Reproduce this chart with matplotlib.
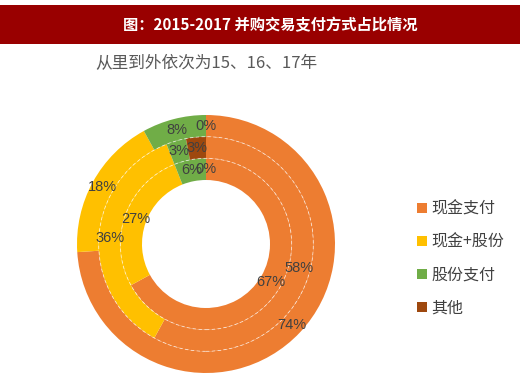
import numpy as np
import matplotlib
matplotlib.use('Agg')
import matplotlib.pyplot as plt
from matplotlib.patches import Rectangle, Circle

plt.rcParams['font.family'] = ['Noto Sans CJK SC', 'DejaVu Sans']

# 数据（从里到外三个环）
categories = ['现金支付', '现金+股份', '股份支付', '其他']
inner_ring = [67, 27, 6, 0]
middle_ring = [58, 36, 3, 3]
outer_ring = [74, 18, 8, 0]
colors = ['#ED7D31', '#FFC000', '#70AD47', '#9E480E']

W, H = 520, 378
fig = plt.figure(figsize=(W / 100, H / 100), dpi=100)
ax = fig.add_axes([0, 0, 1, 1])

# 标题栏
fig.patches.append(Rectangle((0, 1 - 44 / H), 1, 39 / H, transform=fig.transFigure,
                             facecolor='#990000', edgecolor='none', zorder=0))
fig.text(270 / W, 1 - 25 / H, '图：2015-2017 并购交易支付方式占比情况', color='white',
         fontsize=11, fontweight='bold', ha='center', va='center')
fig.text(95 / W, 1 - 64 / H, '从里到外依次为15、16、17年', color='#595959',
         fontsize=12, ha='left', va='center')

cx, cy = 206, H - 244
R = 129
w = (129 - 64) / 3
rings = [inner_ring, middle_ring, outer_ring]
handles = None
for i, vals in enumerate(rings):
    r = R - (2 - i) * w
    wedges, _ = ax.pie(vals, radius=r, center=(cx, cy), colors=colors, startangle=90,
                       counterclock=False,
                       wedgeprops=dict(width=w, edgecolor='none'))
    if handles is None:
        handles = wedges
    # 环间的虚线分隔
    if i < 2:
        ax.add_patch(Circle((cx, cy), r, fill=False, edgecolor='white', alpha=0.7,
                            linewidth=0.6, linestyle=(0, (4, 3)), zorder=3))
    # 数据标签
    cum = np.cumsum([0] + vals)
    rm = r - w / 2
    for j, v in enumerate(vals):
        mid = (cum[j] + cum[j + 1]) / 2 / 100 * 2 * np.pi
        x = cx + rm * np.sin(mid)
        y = cy + rm * np.cos(mid)
        ax.text(x, y, f'{v}%', ha='center', va='center', fontsize=10.5,
                color='#404040', family=['Liberation Sans', 'DejaVu Sans'], zorder=4)

ax.set_xlim(0, W)
ax.set_ylim(0, H)
ax.set_aspect('equal')
ax.axis('off')

ax.legend(handles, categories, loc='upper left', bbox_to_anchor=(403 / W, 1 - 186 / H),
          bbox_transform=fig.transFigure, frameon=False, fontsize=11.5,
          handlelength=0.6, handleheight=0.6, handletextpad=0.3, labelspacing=1.0,
          labelcolor='#404040')

fig.savefig('out.png', dpi=100)
